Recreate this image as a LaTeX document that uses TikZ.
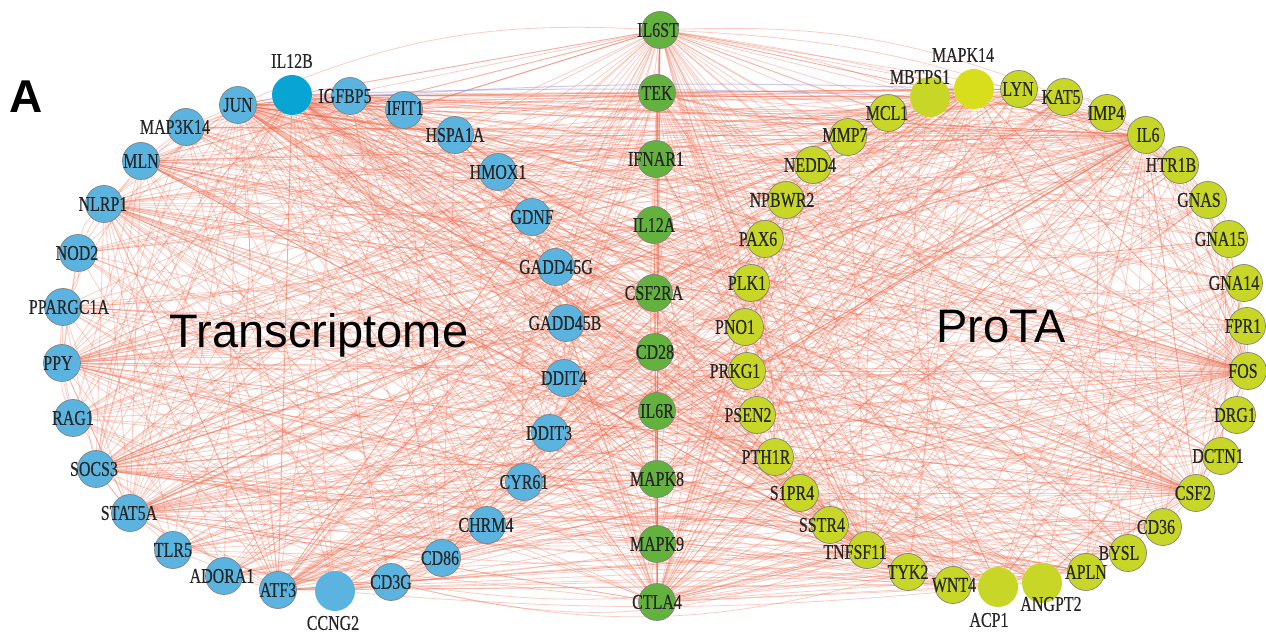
\documentclass[tikz,border=0pt]{standalone}
\usepackage{fontspec}
\setmainfont{Liberation Serif}
\newfontfamily\genefont[FakeStretch=0.76, FakeBold=0.4]{Liberation Serif}
\newfontfamily\headfont{Liberation Sans}
\usetikzlibrary{calc, backgrounds}
\definecolor{TransBlue}{RGB}{91, 180, 224}
\definecolor{TransDeep}{RGB}{8, 164, 212}
\definecolor{CoreGreen}{RGB}{100, 178, 62}
\definecolor{ProYellow}{RGB}{200, 214, 40}
\definecolor{ProBright}{RGB}{216, 222, 28}
\definecolor{EdgeRed}{RGB}{236, 104, 74}
\definecolor{EdgeLilac}{RGB}{150, 150, 225}
\definecolor{RimGray}{RGB}{130, 130, 130}

% name/x/y/label dx/label dy, in pixels of the figure
\newcommand{\transgenes}{JUN/238/105/0/0, IGFBP5/350/96/-5/0, IFIT1/404/110/1/-2,
  HSPA1A/455/135/0/0, HMOX1/498/172/0/0, GDNF/532/217/0/0, GADD45G/556/267/0/0,
  GADD45B/566/323/-1/0, DDIT4/564/378/0/0, DDIT3/550/433/-1/0, CYR61/524/482/0/0,
  CHRM4/487/525/-1/0, CD86/442/558/-2/0, CD3G/391/582/0/0, ATF3/278/590/0/0,
  ADORA1/224/576/-2/0, TLR5/173/550/0/0, STAT5A/130/513/-1/0, SOCS3/96/469/-2/0,
  RAG1/73/418/0/0, PPY/62/363/-4/0, PPARGC1A/63/307/6/0, NOD2/78/253/-1/0,
  NLRP1/104/204/-1/0, MLN/141/161/0/0, MAP3K14/186/127/-11/0}
\newcommand{\coregenes}{IL6ST/660/30/-2/0, TEK/657/93/0/0, IFNAR1/656/159/0/0,
  IL12A/654/225/0/0, CSF2RA/654/293/0/0, CD28/655/352/0/0, IL6R/657/411/0/0,
  MAPK8/657/479/0/0, MAPK9/657/544/0/0, CTLA4/657/602/0/0}
\newcommand{\protagenes}{MCL1/888/113/-1/0, MMP7/848/137/-3/-2, NEDD4/813/165/-3/0,
  NPBWR2/786/200/-4/0, PAX6/765/239/-7/0, PLK1/751/283/-4/0, PNO1/745/327/-10/0,
  PRKG1/747/371/-12/0, PSEN2/757/415/-9/0, PTH1R/775/457/-9/0, S1PR4/800/493/-8/0,
  SSTR4/830/525/-8/0, TNFSF11/867/550/-12/2, TYK2/908/572/0/0, WNT4/953/585/1/0,
  APLN/1086/572/0/0, BYSL/1128/553/-9/0, CD36/1163/527/-7/0, CSF2/1196/493/-3/0,
  DCTN1/1221/456/-3/0, DRG1/1237/415/-2/0, FOS/1248/371/-5/0, FPR1/1247/326/-4/0,
  GNA14/1244/283/-10/0, GNA15/1229/239/-9/0, GNAS/1208/200/-9/0, HTR1B/1180/165/-9/0,
  IL6/1146/135/2/0, IMP4/1107/113/-1/0, KAT5/1064/97/-3/0, LYN/1019/89/-1/0}
\newcommand{\hublabels}{IL12B/0/-34, CCNG2/-2/32, MAPK14/-11/-34, MBTPS1/-10/-20,
  ACP1/-9/33, ANGPT2/9/21}
\newcommand{\allgenes}{JUN,IGFBP5,IFIT1,HSPA1A,HMOX1,GDNF,GADD45G,GADD45B,DDIT4,DDIT3,
  CYR61,CHRM4,CD86,CD3G,ATF3,ADORA1,TLR5,STAT5A,SOCS3,RAG1,PPY,PPARGC1A,NOD2,NLRP1,
  MLN,MAP3K14,IL12B,CCNG2,IL6ST,TEK,IFNAR1,IL12A,CSF2RA,CD28,IL6R,MAPK8,MAPK9,CTLA4,
  MCL1,MMP7,NEDD4,NPBWR2,PAX6,PLK1,PNO1,PRKG1,PSEN2,PTH1R,S1PR4,SSTR4,TNFSF11,TYK2,
  WNT4,APLN,BYSL,CD36,CSF2,DCTN1,DRG1,FOS,FPR1,GNA14,GNA15,GNAS,HTR1B,IL6,IMP4,KAT5,
  LYN,MAPK14,MBTPS1,ACP1,ANGPT2}
\pgfmathdeclarerandomlist{genepool}{{JUN}{IGFBP5}{IFIT1}{HSPA1A}{HMOX1}{GDNF}{GADD45G}
  {GADD45B}{DDIT4}{DDIT3}{CYR61}{CHRM4}{CD86}{CD3G}{ATF3}{ADORA1}{TLR5}{STAT5A}{SOCS3}
  {RAG1}{PPY}{PPARGC1A}{NOD2}{NLRP1}{MLN}{MAP3K14}{IL12B}{CCNG2}{IL6ST}{TEK}{IFNAR1}
  {IL12A}{CSF2RA}{CD28}{IL6R}{MAPK8}{MAPK9}{CTLA4}{MCL1}{MMP7}{NEDD4}{NPBWR2}{PAX6}
  {PLK1}{PNO1}{PRKG1}{PSEN2}{PTH1R}{S1PR4}{SSTR4}{TNFSF11}{TYK2}{WNT4}{APLN}{BYSL}
  {CD36}{CSF2}{DCTN1}{DRG1}{FOS}{FPR1}{GNA14}{GNA15}{GNAS}{HTR1B}{IL6}{IMP4}{KAT5}
  {LYN}{MAPK14}{MBTPS1}{ACP1}{ANGPT2}}

\tikzset{
  gene/.style={circle, minimum size=18.5pt, inner sep=0pt, draw=RimGray, line width=0.35pt},
  trans/.style={gene, fill=TransBlue},
  core/.style={gene, fill=CoreGreen},
  prota/.style={gene, fill=ProYellow},
  hub/.style={minimum size=20pt, draw=none},
  genelabel/.style={inner sep=0pt, text=black!85, font=\genefont\fontsize{10.5}{12}\selectfont},
  edge/.style={draw=EdgeRed, line width=0.4pt, opacity=0.33},
  bighead/.style={font=\headfont\fontsize{23.5}{28}\selectfont, inner sep=0pt, anchor=base},
}

\begin{document}
\begin{tikzpicture}[x=0.5pt, y=-0.5pt]
  \path[use as bounding box] (0,0) rectangle (1266,635);

  % genes
  \foreach \n/\x/\y/\dx/\dy in \transgenes {\node[trans] (\n) at (\x,\y) {};}
  \foreach \n/\x/\y/\dx/\dy in \coregenes {\node[core] (\n) at (\x,\y) {};}
  \foreach \n/\x/\y/\dx/\dy in \protagenes {\node[prota] (\n) at (\x,\y) {};}
  \node[trans, hub, fill=TransDeep] (IL12B) at (292,95) {};
  \node[trans, hub] (CCNG2) at (335,591) {};
  \node[prota, hub, fill=ProBright] (MAPK14) at (974,89) {};
  \node[prota, hub] (MBTPS1) at (930,97) {};
  \node[prota, hub] (ACP1) at (998,587) {};
  \node[prota, hub] (ANGPT2) at (1042,583) {};

  % gene labels on top of all discs
  \foreach \n/\x/\y/\dx/\dy in \transgenes {\node[genelabel] (\n-t) at ($(\n)+(\dx,\dy)$) {\n};}
  \foreach \n/\x/\y/\dx/\dy in \coregenes {\node[genelabel] (\n-t) at ($(\n)+(\dx,\dy)$) {\n};}
  \foreach \n/\x/\y/\dx/\dy in \protagenes {\node[genelabel] (\n-t) at ($(\n)+(\dx,\dy)$) {\n};}
  \foreach \n/\dx/\dy in \hublabels {\node[genelabel] (\n-t) at ($(\n)+(\dx,\dy)$) {\n};}

  \node[font=\headfont\bfseries\fontsize{23}{28}\selectfont, inner sep=0pt] (panelA) at (26,97) {A};
  \node[bighead] (transcriptome) at (319,348) {Transcriptome};
  \node[bighead] (prota) at (1001,343) {ProTA};

  % interactions
  \begin{scope}[on background layer]
    \pgfmathsetseed{2718}
    \foreach \h/\p in {JUN/0.8, IL12B/0.6, IL6ST/0.75, IL6/0.7, FOS/0.7, CSF2/0.5,
        CTLA4/0.55, SOCS3/0.6, PPY/0.5, NLRP1/0.45, MLN/0.45, STAT5A/0.5, ATF3/0.4,
        TNFSF11/0.45, MAPK8/0.4, TEK/0.4, CD86/0.3, MAPK14/0.4, IGFBP5/0.3} {
      \foreach \t in \allgenes {
        \pgfmathtruncatemacro{\keep}{rnd<\p}
        \ifx\h\t\else\ifnum\keep=1 \draw[edge] (\h) -- (\t);\fi\fi
      }
    }
    \foreach \k in {1,...,420} {
      \pgfmathrandomitem{\a}{genepool}
      \pgfmathrandomitem{\b}{genepool}
      \pgfmathsetmacro{\bend}{18*rand}
      \ifx\a\b\else\draw[edge] (\a) to[bend left=\bend] (\b);\fi
    }
    \draw[draw=EdgeLilac, line width=0.5pt, opacity=0.5] (JUN) to[bend left=3] (MAPK14);
    \draw[draw=EdgeLilac, line width=0.5pt, opacity=0.5] (IL12B) to[bend left=2] (MBTPS1);
  \end{scope}
\end{tikzpicture}
\end{document}
